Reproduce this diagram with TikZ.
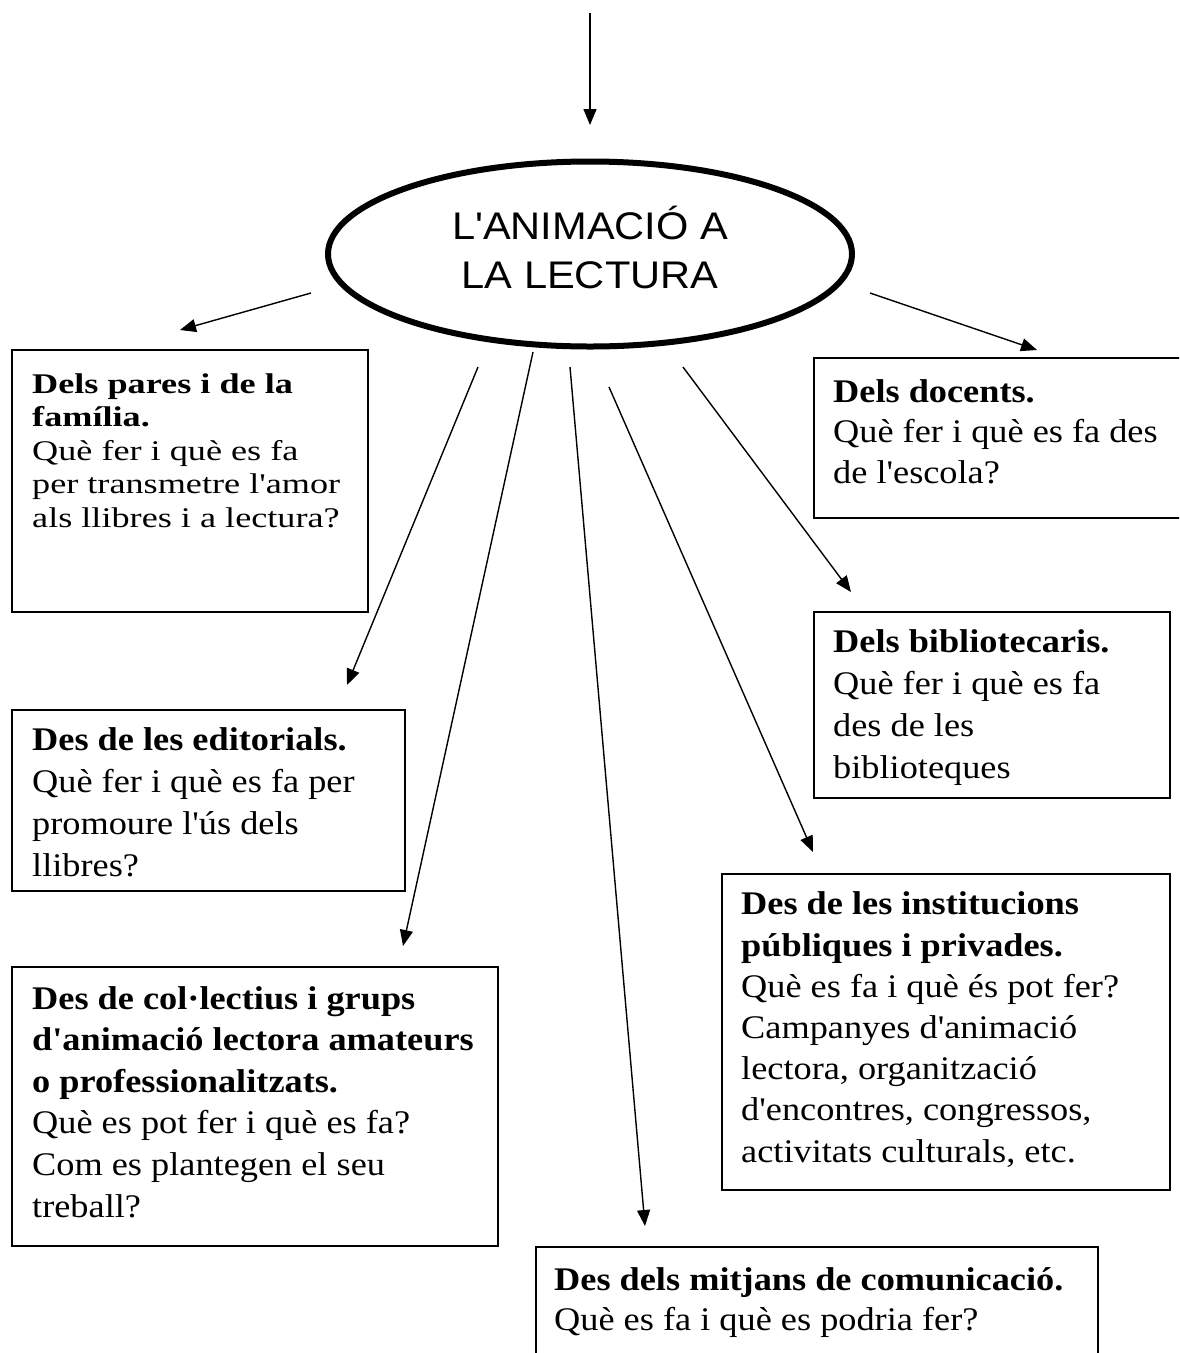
\documentclass[tikz,border=0pt]{standalone}
\usepackage{fontspec}
\setmainfont{Liberation Serif}
\newfontfamily\boxfont[FakeStretch=1.1]{Liberation Serif}
\newfontfamily\boxfontn[FakeStretch=1.27]{Liberation Serif}
\newfontfamily\titlefont[FakeStretch=1.08]{Liberation Sans}
\usetikzlibrary{arrows.meta,shapes.geometric}
\begin{document}
\begin{tikzpicture}[x=1pt,y=-1pt,
  boxst/.style={draw,line width=2pt,rectangle,anchor=north west,inner sep=0pt},
  txt/.style={anchor=base west,inner sep=0pt,align=left,font=\boxfont\fontsize{33}{#1}\selectfont},
  txt/.default=41,
  txtn/.style={anchor=base west,inner sep=0pt,align=left,font=\boxfontn\fontsize{28.5}{33.4}\selectfont},
  arr/.style={line width=1.4pt,-{Triangle[length=16pt,width=13pt]}}]
\clip (0,0) rectangle (1179,1353);
\fill[white] (0,0) rectangle (1179,1353);

% central ellipse
\node[ellipse,draw,line width=6pt,minimum width=524pt,minimum height=185pt,inner sep=0pt] (ell) at (590,254) {};
% (base anchor of a multi-line node = baseline of its last line)
\node[anchor=base,inner sep=0pt,align=center,font=\titlefont\fontsize{38.5}{49}\selectfont] (title) at (590,288) {L'ANIMACIÓ A\\LA LECTURA};

% boxes
\node[boxst,minimum width=356pt,minimum height=262pt] (pares) at (11,349) {};
\node[boxst,minimum width=380pt,minimum height=160pt] (docents) at (813,357) {};
\node[boxst,minimum width=393pt,minimum height=181pt] (edit) at (11,709) {};
\node[boxst,minimum width=356pt,minimum height=186pt] (biblio) at (813,611) {};
\node[boxst,minimum width=448pt,minimum height=316pt] (inst) at (721,873) {};
\node[boxst,minimum width=486pt,minimum height=279pt] (coll) at (11,966) {};
\node[boxst,minimum width=562pt,minimum height=130pt] (mitj) at (535,1246) {};

% texts (positioned at the baseline of their last line)
\node[txtn] (tpares) at (32,527) {\textbf{Dels pares i de la}\\\textbf{família.}\\Què fer i què es fa\\per transmetre l'amor\\als llibres i a lectura?};
\node[txt=40.5] (tdocents) at (833,483) {\textbf{Dels docents.}\\Què fer i què es fa des\\de l'escola?};
\node[txt=42] (tedit) at (32,876) {\textbf{Des de les editorials.}\\Què fer i què es fa per\\promoure l'ús dels\\llibres?};
\node[txt=41.7] (tbiblio) at (833,778) {\textbf{Dels bibliotecaris.}\\Què fer i què es fa\\des de les\\biblioteques};
\node[txt=41.2] (tinst) at (741,1162) {\textbf{Des de les institucions}\\\textbf{públiques i privades.}\\Què es fa i què és pot fer?\\Campanyes d'animació\\lectora, organització\\d'encontres, congressos,\\activitats culturals, etc.};
\node[txt=41.6] (tcoll) at (32,1217) {\textbf{Des de col·lectius i grups}\\\textbf{d'animació lectora amateurs}\\\textbf{o professionalitzats.}\\Què es pot fer i què es fa?\\Com es plantegen el seu\\treball?};
\node[txt=40] (tmitj) at (554,1330) {\textbf{Des dels mitjans de comunicació.}\\Què es fa i què es podria fer?};

% connector end points
\coordinate (top0) at (590,13);
\coordinate (top1) at (590,125);
\coordinate (s1) at (311,293);   \coordinate (e1) at (180,330);
\coordinate (s2) at (870,293);   \coordinate (e2) at (1037,350);
\coordinate (s3) at (478,367);   \coordinate (e3) at (347,685);
\coordinate (s4) at (533,352);   \coordinate (e4) at (403,946);
\coordinate (s5) at (570,367);   \coordinate (e5) at (645,1226);
\coordinate (s6) at (609,387);   \coordinate (e6) at (813,852);
\coordinate (s7) at (683,367);   \coordinate (e7) at (851,592);

\draw[arr] (top0) -- (top1);
\draw[arr] (s1) -- (e1);
\draw[arr] (s2) -- (e2);
\draw[arr] (s3) -- (e3);
\draw[arr] (s4) -- (e4);
\draw[arr] (s5) -- (e5);
\draw[arr] (s6) -- (e6);
\draw[arr] (s7) -- (e7);
\end{tikzpicture}
\end{document}
